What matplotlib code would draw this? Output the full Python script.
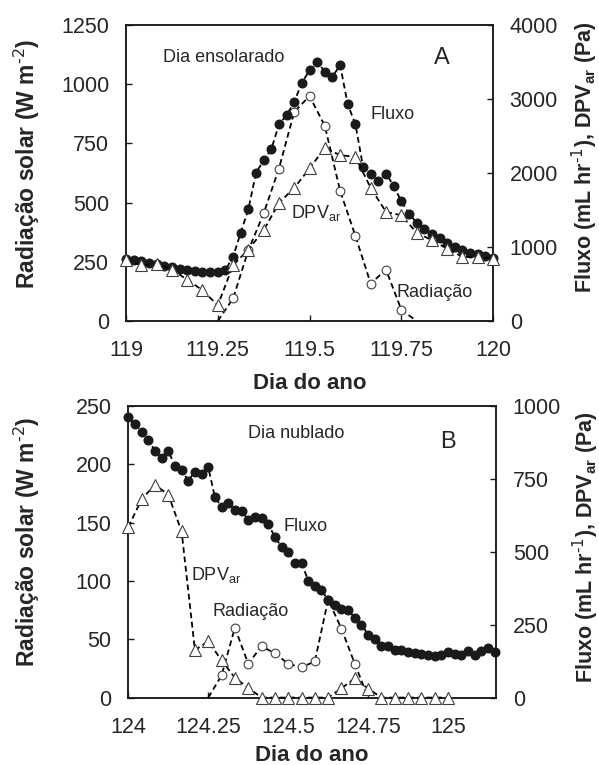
import numpy as np
import matplotlib
matplotlib.use('Agg')
import matplotlib.pyplot as plt

plt.rcParams['font.family'] = ['Liberation Sans', 'DejaVu Sans']
plt.rcParams['mathtext.default'] = 'regular'

TXT = '#262626'

# ---- Panel A: dia ensolarado (119) ----
# Fluxo, every 30 min from 119.0 to 120.0
flux_a = [843, 830, 812, 785, 767, 744, 730, 708, 685, 676, 663, 663, 663, 694,
          866, 1195, 1510, 2002, 2173, 2322, 2656, 2782, 2962, 3219, 3391, 3504,
          3369, 3301, 3459, 2926, 2660, 2083, 1993, 1894, 1993, 1826, 1619, 1452,
          1330, 1249, 1181, 1123, 1060, 1001, 956, 924, 902, 875, 857]
# DPVar, hourly from 119.0 to 120.0
dpv_a = [821, 753, 770, 694, 559, 415, 212, 753, 965, 1226, 1596, 1799, 2061,
         2340, 2241, 2218, 1799, 1474, 1429, 1195, 1091, 978, 866, 866, 843]
# Radiacao, hourly 6h..19h
rad_a_hours = [6, 7, 8, 9, 10, 11, 12, 13, 14, 15, 16, 17, 18, 19]
rad_a = [0, 95, 299, 454, 644, 883, 950, 824, 550, 359, 158, 217, 48, 0]

# ---- Panel B: dia nublado (124) ----
flux_b = [961, 938, 912, 884, 846, 821, 846, 795, 781, 744, 775, 766, 790, 687,
          655, 667, 644, 640, 610, 621, 615, 596, 550, 518, 501, 463, 463, 401,
          384, 370, 333, 316, 304, 301, 273, 250, 216, 201, 176, 176, 162, 162,
          155, 153, 151, 147, 141, 147, 155, 151, 147, 159, 147, 159, 170, 155]
dpv_b = [585, 680, 730, 696, 570, 163, 193, 128, 68, 34, 0, 0, 0, 0, 0, 0,
         32, 66, 31, 0, 0, 0, 0, 0, 0]
rad_b_hours = [6, 7, 8, 9, 10, 11, 12, 13, 14, 15, 16, 17, 18]
rad_b = [0, 19, 60, 29, 44, 38, 29, 26, 31, 84, 59, 29, 0]

dash = (3.2, 2.0)


def panel(rect, day, xlim, xticks, xticklabels, ylim_l, yticks_l, ylim_r, yticks_r,
          flux, dpv, rad_hours, rad, texts, letter, lbl_l, lbl_r, xlab_y):
    ax = fig.add_axes(rect)
    ax2 = ax.twinx()

    t_flux = day + np.arange(len(flux)) / 48.0
    t_dpv = day + np.arange(len(dpv)) / 24.0
    t_rad = day + np.array(rad_hours) / 24.0

    ax.plot(t_rad, rad, color='black', lw=1.3, dashes=dash, marker='o', ms=6.3,
            mfc='white', mec='#404040', mew=0.8,
            markevery=list(range(1, len(rad) - 1)), zorder=3)
    ax2.plot(t_flux, flux, color='black', lw=1.3, dashes=dash, marker='o', ms=6.2,
             mfc='#1a1a1a', mec='#1a1a1a', clip_on=False, zorder=3)
    ax2.plot(t_dpv, dpv, color='black', lw=1.3, dashes=dash, marker='^', ms=8,
             mfc='white', mec='#404040', mew=0.8, clip_on=False, zorder=4)

    ax.set_xlim(*xlim)
    ax.set_ylim(*ylim_l)
    ax2.set_ylim(*ylim_r)
    ax.set_xticks(xticks)
    ax.set_xticklabels(xticklabels)
    ax.set_yticks(yticks_l)
    ax2.set_yticks(yticks_r)

    for a in (ax, ax2):
        for s in a.spines.values():
            s.set_linewidth(1.1)
            s.set_color('#1a1a1a')
        a.tick_params(direction='in', length=4.5, width=1, colors='#1a1a1a',
                      labelcolor=TXT, labelsize=15.5, pad=12)
    ax.tick_params(axis='x', pad=14)

    ax.set_xlabel('Dia do ano', fontsize=16, fontweight='bold', color=TXT)
    ax.xaxis.set_label_coords(0.5, xlab_y)
    ax.set_ylabel('Radiação solar (W m$^{\\text{-2}}$)', fontsize=16.5,
                  fontweight='bold', color=TXT)
    ax.yaxis.set_label_coords(*lbl_l)
    ax2.set_ylabel('Fluxo (mL hr$^{\\text{-1}}$), DPV$_{ar}$ (Pa)', fontsize=15.5,
                   fontweight='bold', color=TXT, rotation=90)
    ax2.yaxis.set_label_coords(*lbl_r)

    for (s, x, y) in texts:
        ax.text(x, y, s, transform=ax.transAxes, fontsize=13, color=TXT,
                ha='left', va='center', zorder=5)
    ax.text(letter[1], letter[2], letter[0], transform=ax.transAxes,
            fontsize=17, color=TXT, ha='center', va='center')
    return ax, ax2


fig = plt.figure(figsize=(5.99, 7.65), dpi=100)

panel([0.2104, 0.5804, 0.6127, 0.3869], 119, (119, 120),
      [119, 119.25, 119.5, 119.75, 120], ['119', '119.25', '119.5', '119.75', '120'],
      (0, 1250), [0, 250, 500, 750, 1000, 1250],
      (0, 4000), [0, 1000, 2000, 3000, 4000],
      flux_a, dpv_a, rad_a_hours, rad_a,
      [('Dia ensolarado', 0.101, 0.889), ('Fluxo', 0.665, 0.696),
       ('DPV$_{ar}$', 0.450, 0.365), ('Radiação', 0.738, 0.095)],
      ('A', 0.861, 0.889), (-0.229, 0.532), (1.209, 0.554), -0.175)

panel([0.2142, 0.0881, 0.6139, 0.3812], 124, (124, 125.15),
      [124, 124.25, 124.5, 124.75, 125], ['124', '124.25', '124.5', '124.75', '125'],
      (0, 250), [0, 50, 100, 150, 200, 250],
      (0, 1000), [0, 250, 500, 750, 1000],
      flux_b, dpv_b, rad_b_hours, rad_b,
      [('Dia nublado', 0.326, 0.907), ('Fluxo', 0.421, 0.588),
       ('DPV$_{ar}$', 0.171, 0.420), ('Radiação', 0.230, 0.294)],
      ('B', 0.869, 0.877), (-0.235, 0.534), (1.202, 0.517), -0.164)

fig.savefig('out.png', dpi=100)
